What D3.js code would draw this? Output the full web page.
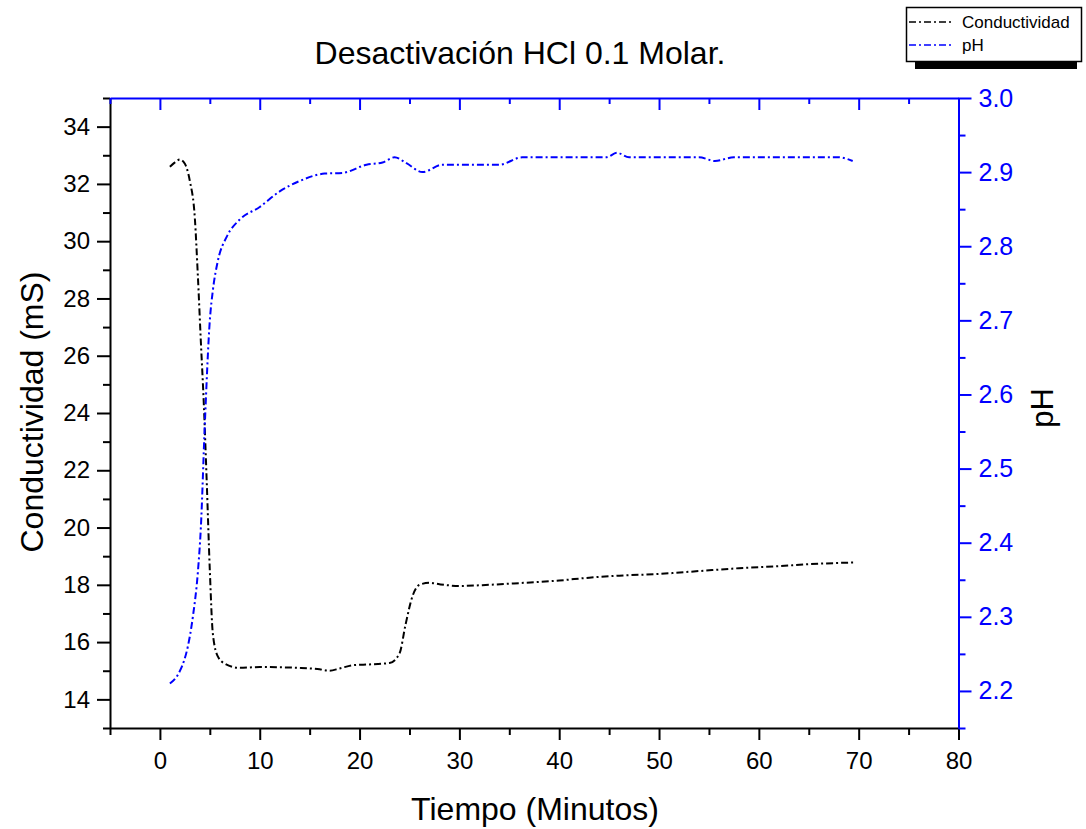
<!DOCTYPE html>
<html lang="es">
<head>
  <meta charset="UTF-8">
  <title>Desactivación HCl 0.1 Molar.</title>
  <script src="https://cdn.jsdelivr.net/npm/d3@7"></script>
  <style>
    body { margin: 0; background: #fff; }
    svg { display: block; font-family: "Liberation Sans", Arial, sans-serif; }
    .axis path, .axis line { stroke-width: 2; }
  </style>
</head>
<body>
  <script>
    // tiempo (min) y conductividad (mS)
    const condTime = [1.0, 1.5, 2.0, 2.5, 3.0, 3.5, 3.8, 4.1, 4.4, 4.7, 5.0, 5.3, 5.8, 6.5, 8, 10, 12, 14, 16, 17, 18, 19.5, 21, 23, 24, 24.6, 25.3, 26, 27, 28, 30, 33, 36, 40, 43, 46, 50, 54, 58, 62, 65, 69.5];
    const condValues = [32.6, 32.75, 32.85, 32.7, 32.1, 30.8, 28.8, 26.5, 24.3, 21.5, 18.5, 16.3, 15.5, 15.25, 15.1, 15.13, 15.12, 15.1, 15.05, 15.0, 15.08, 15.2, 15.22, 15.27, 15.6, 16.6, 17.6, 18.0, 18.07, 18.02, 17.96, 18.0, 18.06, 18.15, 18.25, 18.32, 18.38, 18.48, 18.58, 18.65, 18.72, 18.78];

    // tiempo (min) y pH
    const phTime = [1.0, 1.8, 2.4, 2.8, 3.3, 3.8, 4.1, 4.5, 5.0, 5.3, 5.8, 6.7, 8, 10, 12, 14, 16.5, 18.3, 20.7, 22.3, 23.5, 24.7, 26.3, 28.3, 34, 36.3, 44.7, 45.8, 47, 54, 55.6, 57.5, 68, 69.4];
    const phValues = [2.21, 2.222, 2.24, 2.26, 2.30, 2.36, 2.42, 2.56, 2.70, 2.74, 2.78, 2.813, 2.836, 2.853, 2.874, 2.888, 2.898, 2.899, 2.91, 2.913, 2.92, 2.912, 2.90, 2.91, 2.91, 2.92, 2.92, 2.926, 2.92, 2.92, 2.915, 2.92, 2.92, 2.915];

    const xMajor = [0, 10, 20, 30, 40, 50, 60, 70, 80];
    const xMinor = [-5, 5, 15, 25, 35, 45, 55, 65, 75];
    const condMajor = [14, 16, 18, 20, 22, 24, 26, 28, 30, 32, 34];
    const condMinor = [13, 15, 17, 19, 21, 23, 25, 27, 29, 31, 33, 35];
    const phMajor = [2.2, 2.3, 2.4, 2.5, 2.6, 2.7, 2.8, 2.9, 3.0];
    const phMinor = [2.15, 2.25, 2.35, 2.45, 2.55, 2.65, 2.75, 2.85, 2.95];

    const legendNames = ["Conductividad", "pH"];

    const w = 1086, h = 829;
    const plotLeft = 110, plotRight = 958.5, plotTop = 98, plotBottom = 728;
    const blue = "#0000ff";
    const dash = "7,3,2,3";

    const svg = d3.select("body").append("svg")
      .attr("width", w)
      .attr("height", h);

    const xScale = d3.scaleLinear().domain([-5, 80]).range([plotLeft, plotRight]);
    const yCond = d3.scaleLinear().domain([13, 35]).range([plotBottom, plotTop]);
    const yPh = d3.scaleLinear().domain([2.15, 3.0]).range([plotBottom, plotTop]);

    // ejes: menores primero, luego mayores con etiquetas
    function drawAxis(axisFn, scale, major, minor, transform, color, bigSize, smallSize, pad, fontSize, fmt) {
      const gMinor = svg.append("g").attr("class", "axis").attr("transform", transform)
        .call(axisFn(scale).tickValues(minor).tickSize(smallSize).tickFormat(""));
      gMinor.select(".domain").remove();
      gMinor.selectAll("line").attr("stroke", color);
      const g = svg.append("g").attr("class", "axis").attr("transform", transform)
        .call(axisFn(scale).tickValues(major).tickSizeInner(bigSize).tickSizeOuter(0).tickPadding(pad).tickFormat(fmt));
      g.select(".domain").attr("stroke", color);
      g.selectAll("line").attr("stroke", color);
      g.selectAll("text")
        .attr("fill", color)
        .style("font-family", '"Liberation Sans", Arial, sans-serif')
        .style("font-size", fontSize + "px");
      return g;
    }

    drawAxis(d3.axisBottom, xScale, xMajor, xMinor, `translate(0,${plotBottom})`, "#000", 12, 7, 12, 24, d3.format("d"));
    drawAxis(d3.axisLeft, yCond, condMajor, condMinor, `translate(${plotLeft},0)`, "#000", 13, 7, 7, 24, d3.format("d"));
    drawAxis(d3.axisRight, yPh, phMajor, phMinor, `translate(${plotRight},0)`, blue, 13, 7, 7, 25, d3.format(".1f"));
    // eje superior: marcas hacia dentro, sin etiquetas
    drawAxis(d3.axisBottom, xScale, xMajor, xMinor, `translate(0,${plotTop})`, blue, 12, 6, 0, 0, () => "");

    // curvas
    const condData = condTime.map((t, i) => [t, condValues[i]]);
    const phData = phTime.map((t, i) => [t, phValues[i]]);

    svg.append("path")
      .datum(condData)
      .attr("fill", "none")
      .attr("stroke", "#000")
      .attr("stroke-width", 2)
      .attr("stroke-dasharray", dash)
      .attr("d", d3.line().x(d => xScale(d[0])).y(d => yCond(d[1])).curve(d3.curveMonotoneX));

    svg.append("path")
      .datum(phData)
      .attr("fill", "none")
      .attr("stroke", blue)
      .attr("stroke-width", 2)
      .attr("stroke-dasharray", dash)
      .attr("d", d3.line().x(d => xScale(d[0])).y(d => yPh(d[1])).curve(d3.curveMonotoneX));

    // textos
    svg.append("text")
      .attr("x", 520).attr("y", 64)
      .attr("text-anchor", "middle")
      .style("font-size", "32px")
      .text("Desactivación HCl 0.1 Molar.");

    svg.append("text")
      .attr("x", 535).attr("y", 820)
      .attr("text-anchor", "middle")
      .style("font-size", "32px")
      .text("Tiempo (Minutos)");

    svg.append("text")
      .attr("transform", "translate(43,412) rotate(-90)")
      .attr("text-anchor", "middle")
      .style("font-size", "32px")
      .text("Conductividad (mS)");

    svg.append("text")
      .attr("transform", "translate(1053,408) rotate(-90)")
      .attr("text-anchor", "middle")
      .style("font-size", "31px")
      .text("pH");

    // leyenda
    const leg = svg.append("g");
    leg.append("rect")
      .attr("x", 915).attr("y", 62).attr("width", 162).attr("height", 7)
      .attr("fill", "#000");
    leg.append("rect")
      .attr("x", 906.5).attr("y", 7.5).attr("width", 175).attr("height", 54)
      .attr("fill", "#fff").attr("stroke", "#000").attr("stroke-width", 1.5);

    const legColors = ["#000", blue];
    legendNames.forEach((name, i) => {
      const yy = 22 + i * 23;
      leg.append("line")
        .attr("x1", 909).attr("x2", 952)
        .attr("y1", yy).attr("y2", yy)
        .attr("stroke", legColors[i])
        .attr("stroke-width", 1.5)
        .attr("stroke-dasharray", dash);
      leg.append("text")
        .attr("x", 962).attr("y", yy + 6)
        .style("font-size", "17px")
        .text(name);
    });
  </script>
</body>
</html>
